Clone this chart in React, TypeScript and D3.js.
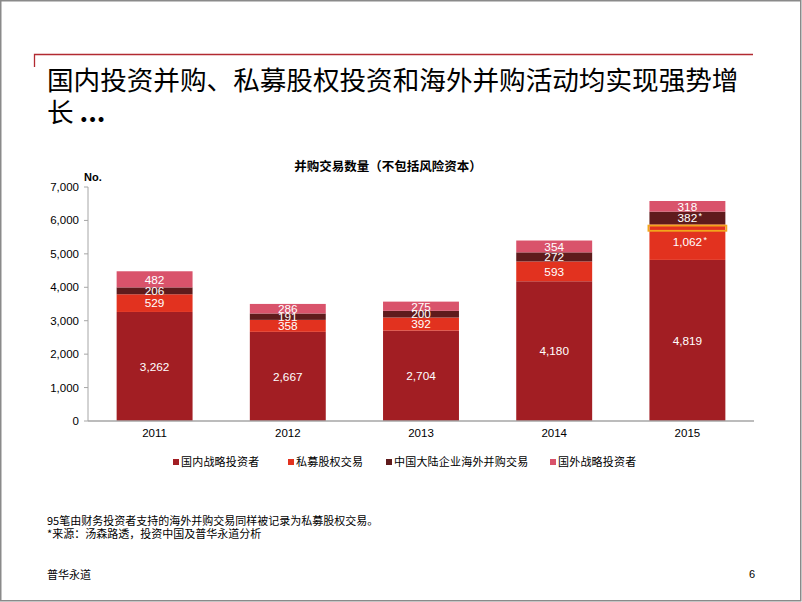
import React from "react";
import * as d3 from "d3";

const years = ["2011", "2012", "2013", "2014", "2015"];
const domestic = [3262, 2667, 2704, 4180, 4819];
const privateEquity = [529, 358, 392, 593, 1062];
const outbound = [206, 191, 200, 272, 382];
const foreign = [482, 286, 275, 354, 318];
const seriesNames = ["国内战略投资者", "私募股权交易", "中国大陆企业海外并购交易", "国外战略投资者"];
const seriesColors = ["#A21E23", "#E2321F", "#5F1B1C", "#D9536B"];
const yTicks = [0, 1000, 2000, 3000, 4000, 5000, 6000, 7000];
const starred: [string, number][] = [["2015", 1], ["2015", 2]];
const highlightYear = "2015";
const highlightRange = [5690, 5845];

const W = 802;
const H = 602;
const CJK = "'Noto Sans CJK SC', 'Noto Sans', sans-serif";
const LAT = "'Liberation Sans', Arial, sans-serif";

export default function App() {
  const x = d3.scaleBand<string>().domain(years).range([88, 754]).paddingInner(0.43).paddingOuter(0.215);
  const y = d3.scaleLinear().domain([0, 7000]).range([421, 187]);
  const seriesValues = [domestic, privateEquity, outbound, foreign];
  const rows = years.map((yr, i) => {
    const r: any = { year: yr };
    seriesValues.forEach((s, k) => (r["s" + k] = s[i]));
    return r;
  });
  const stack = d3.stack<any>().keys(["s0", "s1", "s2", "s3"])(rows);
  const fmt = d3.format(",");
  const legendX = [173, 288, 386, 550];
  const hiBand = x(highlightYear)!;

  return (
    <svg width={W} height={H} style={{ position: "absolute", left: 0, top: 0, background: "#fff" }}>
      <rect x={0.75} y={0.75} width={W - 2} height={H - 2} fill="#fff" stroke="#8a8a8a" strokeWidth={1.5} />
      <path d="M34.5,67 V54.5 H753" fill="none" stroke="#B22A31" strokeWidth={1.3} />
      <text x={47} y={90} fontFamily={CJK} fontSize={26.6} fill="#000">国内投资并购、私募股权投资和海外并购活动均实现强势增</text>
      <text x={47} y={122} fontFamily={CJK} fontSize={26.6} fill="#000">长 <tspan fontWeight="bold">...</tspan></text>

      <text x={388} y={171} textAnchor="middle" fontFamily={CJK} fontSize={12.5} fontWeight="bold" fill="#000">并购交易数量（不包括风险资本）</text>
      <text x={84} y={181} fontFamily={LAT} fontSize={11} fontWeight="bold" fill="#000">No.</text>

      {yTicks.map((t) => (
        <g key={t}>
          <line x1={84} x2={88} y1={y(t)} y2={y(t)} stroke="#A6A6A6" />
          <text x={79} y={y(t) + 4} textAnchor="end" fontFamily={LAT} fontSize={11.5} fill="#000">{fmt(t)}</text>
        </g>
      ))}

      {stack.map((layer, k) =>
        layer.map((d, i) => (
          <rect key={k + "-" + i} x={x(years[i])} width={x.bandwidth()} y={y(d[1])} height={y(d[0]) - y(d[1])} fill={seriesColors[k]} />
        ))
      )}

      <rect x={hiBand - 1} width={x.bandwidth() + 2} y={y(highlightRange[1])} height={y(highlightRange[0]) - y(highlightRange[1])} fill="none" stroke="#F2A51C" strokeWidth={1.8} />

      {stack.map((layer, k) =>
        layer.map((d, i) => {
          const cy = (y(d[0]) + y(d[1])) / 2;
          const cx = x(years[i])! + x.bandwidth() / 2;
          const star = starred.some(([yr, s]) => yr === years[i] && s === k);
          return (
            <g key={"l" + k + "-" + i}>
              <text x={cx} y={cy + 4.3} textAnchor="middle" fontFamily={LAT} fontSize={11.8} fill="#fff">{fmt(seriesValues[k][i])}</text>
              {star && (
                <text x={cx + (seriesValues[k][i] >= 1000 ? 16 : 11)} y={cy + 1} fontFamily={LAT} fontSize={9} fill="#fff">*</text>
              )}
            </g>
          );
        })
      )}

      <line x1={88} x2={754} y1={421} y2={421} stroke="#A6A6A6" strokeWidth={1.3} />
      <line x1={88} x2={88} y1={187} y2={421} stroke="#A6A6A6" strokeWidth={1} />

      {years.map((yr) => (
        <text key={yr} x={x(yr)! + x.bandwidth() / 2} y={437} textAnchor="middle" fontFamily={LAT} fontSize={11.5} fill="#000">{yr}</text>
      ))}

      {seriesNames.map((n, k) => (
        <g key={n}>
          <rect x={legendX[k]} y={459} width={6} height={6} fill={seriesColors[k]} />
          <text x={legendX[k] + 8} y={466} fontFamily={CJK} fontSize={11} letterSpacing={0.2} fill="#000">{n}</text>
        </g>
      ))}

      <text x={47} y={525} fontFamily={CJK} fontSize={11} fill="#000">95笔由财务投资者支持的海外并购交易同样被记录为私募股权交易。</text>
      <text x={47} y={538} fontFamily={CJK} fontSize={11} fill="#000">*来源：汤森路透，投资中国及普华永道分析</text>
      <text x={47} y={579} fontFamily={CJK} fontSize={11} fill="#000">普华永道</text>
      <text x={752} y={578} textAnchor="middle" fontFamily={LAT} fontSize={11} fill="#000">6</text>
    </svg>
  );
}
